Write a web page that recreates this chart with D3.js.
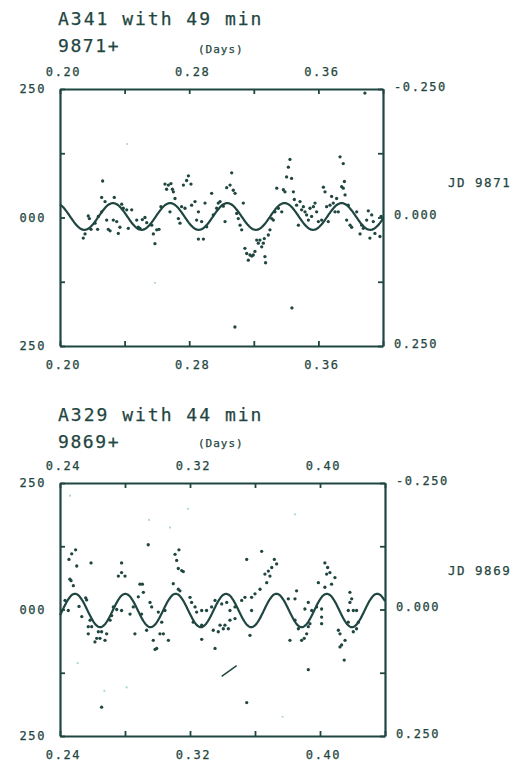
<!DOCTYPE html>
<html>
<head>
<meta charset="utf-8">
<script src="https://cdn.jsdelivr.net/npm/d3@7"></script>
<style>
  html, body { margin: 0; padding: 0; background: #ffffff; }
  svg { display: block; }
  text { font-family: "DejaVu Sans Mono", "Liberation Mono", monospace; fill: #1f4641; stroke: #1f4641; stroke-width: 0.25px; }
</style>
</head>
<body>
<svg id="chart" width="515" height="765"></svg>
<script>
// ---- A341 (JD 2449871+), fractional day vs. differential magnitude (mmag) ----
const a341Days = [
  0.2264,0.2258,0.2279,0.2336,0.2175,0.2182,0.2144,0.2155,0.2192,0.2217,0.2233,0.2237,0.2258,0.2289,0.2299,0.2310,0.2330,0.2351,0.2361,0.2371,
  0.2382,0.2392,0.2413,0.2423,0.2444,0.2475,0.2485,0.2495,0.2510,0.2526,0.2537,0.2568,0.2578,0.2588,0.2599,0.2613,0.2625,0.2650,0.2660,0.2671,
  0.2687,0.2696,0.2702,0.2681,0.2712,0.2733,0.2743,0.2753,0.2764,0.2774,0.2784,0.2795,0.2811,0.2815,0.2836,0.2846,0.2857,0.2877,0.2857,0.2888,
  0.2898,0.2908,0.2939,0.2949,0.2970,0.2980,0.2991,0.3011,0.3022,0.3032,0.3053,0.3063,0.3073,0.3084,0.3094,0.3104,0.3115,0.3125,0.3135,0.3145,
  0.3156,0.3166,0.3176,0.3187,0.3197,0.3207,0.3218,0.3228,0.3238,0.3249,0.3259,0.3269,0.3273,0.3265,0.3290,0.3300,0.3311,0.3321,0.3331,0.3342,
  0.3352,0.3373,0.3383,0.3393,0.3403,0.3414,0.3424,0.3434,0.3445,0.3451,0.3465,0.3476,0.3486,0.3496,0.3507,0.3517,0.3527,0.3538,0.3548,0.3558,
  0.3569,0.3579,0.3589,0.3600,0.3620,0.3631,0.3641,0.3651,0.3661,0.3672,0.3682,0.3692,0.3703,0.3713,0.3723,0.3734,0.3744,0.3754,0.3761,0.3754,
  0.3765,0.3775,0.3785,0.3796,0.3806,0.3837,0.3858,0.3868,0.3878,0.3899,0.3909,0.3919,0.3930,0.3940,0.3950,0.3981,0.3988,0.3888,0.3083,0.3436
];
const a341Mmag = [
  -71,-39,-31,-39,-3,2,40,32,23,11,23,-2,-11,5,23,26,5,8,31,19,
  -26,-18,-15,21,-15,5,19,21,4,0,10,15,32,51,24,23,-21,-65,-55,-63,
  -66,-55,-50,-11,-37,2,11,-21,-63,-18,-72,-81,-65,-24,-31,5,-11,8,42,42,
  -28,18,-47,-5,-18,-28,-31,-22,8,-58,-63,-87,-53,-47,-8,2,15,24,-28,60,
  70,83,73,75,73,66,44,50,44,57,50,76,88,41,34,24,2,5,-11,-57,
  -18,-11,-54,-50,-79,-98,-113,-76,-50,-35,-24,15,-31,-15,-21,-11,-5,5,-18,-2,
  -21,-28,-11,8,5,-59,-50,-21,8,-24,-41,-28,-11,-37,-11,-118,-60,-105,-70,-57,
  -44,5,-24,15,19,-11,32,15,21,5,-13,40,-5,8,31,37,-2,-242,213,176
];
const a341FaintDays = [0.2588, 0.2415];
const a341FaintMmag = [127, -143];

// ---- A329 (JD 2449869+) ----
const a329Days = [
  0.2496,0.2472,0.2455,0.2503,0.2591,0.2461,0.2468,0.2482,0.2431,0.2558,0.2564,0.2517,0.2534,0.2451,0.2779,0.2759,0.2779,0.2800,0.2892,0.2907,
  0.2913,0.2882,0.2728,0.2749,0.2779,0.2718,0.2831,0.2902,0.2851,0.2954,0.2964,0.3108,0.3132,0.3118,0.3128,0.3149,0.3159,0.3097,0.3128,0.3138,
  0.3005,0.3046,0.3200,0.3210,0.3231,0.3241,0.3272,0.3549,0.3641,0.3719,0.3733,0.3703,0.3682,0.3661,0.3692,0.3672,0.3631,0.3600,0.3538,0.3518,
  0.3354,0.3333,0.3395,0.3426,0.3446,0.3477,0.3579,0.3579,0.3302,0.3856,0.3805,0.3846,0.3928,0.3990,0.4030,0.4047,0.4041,0.4061,0.4092,0.4071,
  0.4030,0.3979,0.4010,0.3949,0.3907,0.4184,0.4195,0.4184,0.4174,0.4205,0.4225,
  0.2585,0.2574,0.2595,0.2574,0.2636,0.2656,0.2626,0.2646,0.2677,0.2687,0.2615,0.2708,0.2861,0.2933,0.2974,0.2995,0.2985,0.3015,0.3036,0.3067,
  0.3026,0.3220,0.3272,0.3272,0.3343,0.3354,0.3374,0.3385,0.3405,0.3415,0.3436,0.3446,0.3477,0.3569,0.3815,0.3846,0.3867,0.3887,0.3903,0.3918,
  0.3928,0.3938,0.4010,0.4010,0.4113,0.4123,0.4123,0.4133,0.4154,0.4174,0.4205,0.4225,0.4236,0.4149,0.3928,0.3549,0.2656,0.2943
];
const a329Mmag = [
  -118,-110,-99,-86,-92,-60,-57,-47,-18,-23,-19,-6,14,2,-92,-66,-73,-66,-50,-50,
  -34,-25,-5,0,2,12,9,9,-5,-14,-5,-109,-118,-97,-81,-77,-75,-51,-40,-37,
  5,2,-24,-14,-5,5,2,-99,-115,-99,-90,-83,-76,-70,-66,-53,-40,-31,-24,-18,
  -18,-5,-11,-14,2,-5,-24,2,2,-37,-21,-21,-14,-53,-92,-83,-70,-73,-63,-50,
  -44,-5,-1,2,-1,-34,-21,-14,2,2,2,
  21,34,34,48,44,44,57,57,61,48,64,21,48,41,61,77,79,48,48,61,
  25,25,31,59,41,77,44,31,38,31,38,21,18,51,61,21,38,61,57,48,
  34,28,15,28,41,48,74,70,61,25,44,38,25,100,119,184,193,-128
];
const a329FaintDays = [0.2948, 0.3846, 0.3077, 0.3770, 0.2673, 0.2810, 0.2509, 0.2462, 0.3188];
const a329FaintMmag = [-177, -188, -162, 212, 161, 154, 106, -225, -199];
// a short pen stroke across the A329 frame
const a329StrokeDays = [0.3395, 0.3487];
const a329StrokeMmag = [132, 111];

// sine fits: period (days), semi-amplitude (mmag), epoch of maximum light, zero offset (mmag)
const a341Fit = [0.0354, 26, 0.2328, -2];
const a329Fit = [0.0310, 33, 0.2492, 2];

// tick values
const a341XTicks = [0.20, 0.24, 0.28, 0.32, 0.36, 0.40];
const a341XLabels = [0.20, 0.28, 0.36];
const a329XTicks = [0.24, 0.28, 0.32, 0.36, 0.40, 0.44];
const a329XLabels = [0.24, 0.32, 0.40];
const magTicks = [-250, -125, 0, 125, 250];
const magLabels = [-250, 0, 250];

const INK = "#1f4641";
const FAINT = "#a9d6d3";

const panels = [
  {
    title: "A341 with 49 min", epoch: "9871+", jd: "JD 9871",
    days: a341Days, mmag: a341Mmag, faintDays: a341FaintDays, faintMmag: a341FaintMmag,
    fit: a341Fit, xDomain: [0.20, 0.40], xTicks: a341XTicks, xLabels: a341XLabels,
    box: { x0: 60, x1: 383, y0: 89, y1: 346 },
    titleY: 25, epochY: 52, daysY: 53, jdY: 187
  },
  {
    title: "A329 with 44 min", epoch: "9869+", jd: "JD 9869",
    days: a329Days, mmag: a329Mmag, faintDays: a329FaintDays, faintMmag: a329FaintMmag,
    strokeDays: a329StrokeDays, strokeMmag: a329StrokeMmag,
    fit: a329Fit, xDomain: [0.24, 0.44], xTicks: a329XTicks, xLabels: a329XLabels,
    box: { x0: 60, x1: 385, y0: 483, y1: 736 },
    titleY: 421, epochY: 448, daysY: 447, jdY: 575
  }
];

const svg = d3.select("#chart");
const near = (a, list) => list.some(v => Math.abs(v - a) < 1e-6);

panels.forEach(p => {
  const b = p.box;
  const x = d3.scaleLinear().domain(p.xDomain).range([b.x0, b.x1]);
  const y = d3.scaleLinear().domain([-250, 250]).range([b.y0, b.y1]);
  const g = svg.append("g");

  // headings
  g.append("text").attr("x", 58).attr("y", p.titleY)
    .style("font-size", "18px").style("letter-spacing", "2px").text(p.title);
  g.append("text").attr("x", 58).attr("y", p.epochY)
    .style("font-size", "18px").style("letter-spacing", "1.6px").text(p.epoch);
  g.append("text").attr("x", 198).attr("y", p.daysY)
    .style("font-size", "11px").style("letter-spacing", "1px").text("(Days)");
  g.append("text").attr("x", 448).attr("y", p.jdY)
    .style("font-size", "12.5px").style("letter-spacing", "1.5px").text(p.jd);

  const xFmt = d => near(d, p.xLabels) ? d.toFixed(2) : "";
  const leftFmt = d => near(d, magLabels) ? (d === 0 ? "000" : String(Math.abs(d))) : "";
  const rightFmt = d => near(d, magLabels) ? (d / 1000).toFixed(3) : "";

  const axes = [
    g.append("g").attr("transform", `translate(0,${b.y0})`)
      .call(d3.axisTop(x).tickValues(p.xTicks).tickSizeInner(-5).tickSizeOuter(0).tickPadding(13).tickFormat(xFmt)),
    g.append("g").attr("transform", `translate(0,${b.y1})`)
      .call(d3.axisBottom(x).tickValues(p.xTicks).tickSizeInner(-5).tickSizeOuter(0).tickPadding(14).tickFormat(xFmt)),
    g.append("g").attr("transform", `translate(${b.x0},0)`)
      .call(d3.axisLeft(y).tickValues(magTicks).tickSizeInner(-5).tickSizeOuter(0).tickPadding(14).tickFormat(leftFmt)),
    g.append("g").attr("transform", `translate(${b.x1},0)`)
      .call(d3.axisRight(y).tickValues(magTicks).tickSizeInner(-5).tickSizeOuter(0).tickPadding(11).tickFormat(rightFmt))
  ];
  axes.forEach(a => {
    a.select(".domain").attr("stroke", INK).attr("stroke-width", 2.2);
    a.selectAll(".tick line").attr("stroke", INK).attr("stroke-width", 1.8);
    a.selectAll(".tick text").attr("fill", INK)
      .style("font-family", '"DejaVu Sans Mono", monospace')
      .style("font-size", "12px").style("letter-spacing", "1.6px");
  });
  axes[0].selectAll(".tick text").attr("dx", "3");
  axes[1].selectAll(".tick text").attr("dx", "3");
  axes[3].selectAll(".tick text").attr("dy", "0.1em");

  // faint marks
  g.append("g").selectAll("circle").data(p.faintDays).join("circle")
    .attr("cx", d => x(d)).attr("cy", (d, i) => y(p.faintMmag[i]))
    .attr("r", 1.1).attr("fill", FAINT);

  // observations
  g.append("g").selectAll("circle").data(p.days).join("circle")
    .attr("cx", d => x(d)).attr("cy", (d, i) => y(p.mmag[i]))
    .attr("r", 1.65).attr("fill", INK);

  if (p.strokeDays) {
    g.append("path")
      .datum(p.strokeDays.map((d, i) => [d, p.strokeMmag[i]]))
      .attr("d", d3.line().x(d => x(d[0])).y(d => y(d[1])))
      .attr("stroke", INK).attr("stroke-width", 1.5).attr("fill", "none");
  }

  // fitted sinusoid
  const [period, amp, t0, off] = p.fit;
  const ts = d3.range(p.xDomain[0], p.xDomain[1] + 1e-9, 0.0004);
  g.append("path")
    .datum(ts)
    .attr("d", d3.line()
      .x(t => x(t))
      .y(t => y(off - amp * Math.cos(2 * Math.PI * (t - t0) / period)))
      .curve(d3.curveBasis))
    .attr("fill", "none").attr("stroke", INK).attr("stroke-width", 2.2);
});
</script>
</body>
</html>
